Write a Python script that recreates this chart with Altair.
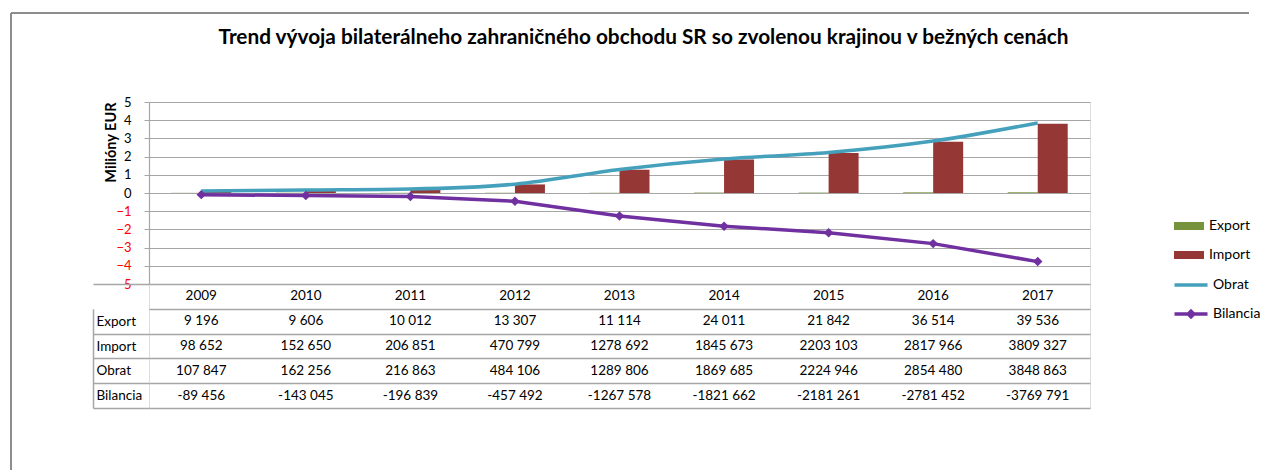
import altair as alt
import pandas as pd

years = ["2009", "2010", "2011", "2012", "2013", "2014", "2015", "2016", "2017"]
export_vals = [9196, 9606, 10012, 13307, 11114, 24011, 21842, 36514, 39536]
import_vals = [98652, 152650, 206851, 470799, 1278692, 1845673, 2203103, 2817966, 3809327]
obrat_vals = [107847, 162256, 216863, 484106, 1289806, 1869685, 2224946, 2854480, 3848863]
bilancia_vals = [-89456, -143045, -196839, -457492, -1267578, -1821662, -2181261, -2781452, -3769791]

series_names = ["Export", "Import", "Obrat", "Bilancia"]
series_vals = [export_vals, import_vals, obrat_vals, bilancia_vals]
y_ticks = [-5, -4, -3, -2, -1, 0, 1, 2, 3, 4, 5]

FONT = "Lato"
GRID = "#A6A6A6"
FRAME = "#8C8C8C"
C_EXP = "#77933C"
C_IMP = "#953735"
C_OBR = "#45A0BC"
C_BIL = "#7030A0"


def fmt(v):
    s = "-" if v < 0 else ""
    a = abs(v)
    if a >= 1000:
        return f"{s}{a // 1000} {a % 1000:03d}"
    return f"{s}{a}"


rows = []
for name, vals in zip(series_names, series_vals):
    for y, v in zip(years, vals):
        rows.append({"year": y, "series": name, "value": v / 1e6, "label": fmt(v)})
df = pd.DataFrame(rows)

tab_rows = [{"year": y, "row": "hdr", "label": y} for y in years]
tab_rows += [{"year": r["year"], "row": r["series"], "label": r["label"]} for r in rows]
tdf = pd.DataFrame(tab_rows)
row_domain = ["hdr"] + series_names

W, H, TH = 941, 182, 124
xscale = alt.Scale(domain=years, paddingInner=0, paddingOuter=0)
yscale = alt.Scale(domain=[-5, 5], nice=False, zero=False)

base = alt.Chart(df)

yaxis = alt.Axis(
    values=y_ticks, tickCount=11, labelOverlap=False, grid=True, gridColor=GRID, gridWidth=1.2,
    domainColor=GRID, domainWidth=1.2, tickColor=GRID, tickSize=5,
    labelColor=alt.condition("datum.value < 0", alt.value("#FF0000"), alt.value("#000000")),
    labelFont=FONT, labelFontSize=13, labelPadding=13,
    title="Milióny EUR", titleFont=FONT, titleFontSize=14.5, titleFontWeight="bold",
    titleAnchor="end", titlePadding=-3, titleColor="#000000",
)

LX = 1030
leg_common = dict(title=None, orient="none", legendX=LX, labelFont=FONT, labelFontSize=14,
                  labelColor="#000000", padding=0, labelOffset=10, symbolSize=400)

bars = base.transform_filter(
    alt.FieldOneOfPredicate(field="series", oneOf=["Export", "Import"])
).mark_bar().encode(
    x=alt.X("year:N", scale=xscale, axis=None),
    xOffset=alt.XOffset("series:N", scale=alt.Scale(domain=["Export", "Import"], paddingInner=0, paddingOuter=0.743)),
    y=alt.Y("value:Q", scale=yscale, axis=yaxis),
    fill=alt.Fill("series:N", scale=alt.Scale(domain=["Export", "Import"], range=[C_EXP, C_IMP]),
                  legend=alt.Legend(legendY=114, symbolType="M-1.5,-0.4H1.5V0.4H-1.5Z",
                                    symbolStrokeWidth=0, rowPadding=12, **leg_common)),
)

obrat = base.transform_filter(alt.datum.series == "Obrat").mark_line(
    strokeWidth=3.5, interpolate="monotone"
).encode(
    x=alt.X("year:N", scale=xscale, axis=None),
    y=alt.Y("value:Q", scale=yscale),
    stroke=alt.Stroke("series:N", scale=alt.Scale(domain=["Obrat"], range=[C_OBR]),
                      legend=alt.Legend(legendY=171, symbolType="M-1.65,0H1.65",
                                        symbolStrokeWidth=3.5, **leg_common)),
)

bil = base.transform_filter(alt.datum.series == "Bilancia").mark_line(strokeWidth=3.5).encode(
    x=alt.X("year:N", scale=xscale, axis=None),
    y=alt.Y("value:Q", scale=yscale),
    stroke=alt.Stroke("series:N", scale=alt.Scale(domain=["Bilancia"], range=[C_BIL]),
                      legend=alt.Legend(legendY=200,
                                        symbolType="M-1.65,0H1.65M0,-0.28L0.28,0L0,0.28L-0.28,0Z",
                                        symbolStrokeWidth=3.5, **leg_common)),
)

bil_pts = base.transform_filter(alt.datum.series == "Bilancia").mark_point(
    shape="diamond", size=90, filled=True, color=C_BIL, opacity=1
).encode(
    x=alt.X("year:N", scale=xscale, axis=None),
    y=alt.Y("value:Q", scale=yscale),
)

top = alt.layer(bars, obrat, bil, bil_pts).properties(
    width=W, height=H,
    title=alt.TitleParams(
        "Trend vývoja bilaterálneho zahraničného obchodu SR so zvolenou krajinou v bežných cenách",
        font=FONT, fontSize=20.8, fontWeight="bold", color="#000000", anchor="middle",
        frame="group", dx=24, offset=47,
    ),
).resolve_scale(fill="independent", stroke="independent")

rscale = alt.Scale(domain=row_domain, paddingInner=0, paddingOuter=0)
tab_text = alt.Chart(tdf).mark_text(font=FONT, fontSize=13.5, color="#000000").encode(
    x=alt.X("year:N", scale=xscale,
            axis=alt.Axis(grid=True, gridColor=GRID, gridWidth=1.5, tickBand="extent",
                          labels=False, ticks=False, domain=False, title=None)),
    y=alt.Y("row:N", scale=rscale,
            axis=alt.Axis(orient="left", tickBand="extent", grid=True, gridColor=GRID, gridWidth=1.5,
                          ticks=True, tickSize=56, tickWidth=1.5,
                          tickColor=alt.condition("datum.value == 'hdr'", alt.value("transparent"), alt.value(GRID)),
                          domain=False, labelExpr="datum.value == 'hdr' ? '' : datum.value",
                          labelAlign="left", labelPadding=-3,
                          labelBaseline="middle", labelFont=FONT, labelFontSize=13.5,
                          labelColor="#000000", title=None)),
    text="label:N",
)
tab_edge = alt.Chart(tdf).transform_filter(alt.datum.row != "hdr").mark_text(opacity=0).encode(
    x=alt.X("year:N", scale=xscale, axis=None),
    y=alt.Y("row:N", scale=alt.Scale(domain=series_names, range=[TH / 5, TH], paddingInner=0, paddingOuter=0),
            axis=alt.Axis(orient="left", offset=56, domain=True, domainColor=GRID, domainWidth=1.5,
                          ticks=False, labels=False, grid=False, title=None)),
    text="label:N",
)
# outer chart-area frame (left and top edges of the Excel chart box)
frame_left = alt.Chart(tdf).mark_rule(color=FRAME, strokeWidth=1).encode(
    x=alt.value(-138), y=alt.value(-271), y2=alt.value(186)
)
frame_top = alt.Chart(tdf).mark_rule(color=FRAME, strokeWidth=1).encode(
    x=alt.value(-138), x2=alt.value(1100), y=alt.value(-271)
)
table = alt.layer(tab_text, tab_edge, frame_left, frame_top).resolve_scale(y="independent").resolve_axis(
    y="independent"
).properties(width=W, height=TH)

chart = alt.vconcat(top, table, spacing=0, bounds="flush").properties(
    padding={"left": 10, "top": 12, "right": 0, "bottom": 0},
).configure_view(stroke=None).configure(background="white")

chart.save("out.html", embed_options={"renderer": "svg", "actions": False})
